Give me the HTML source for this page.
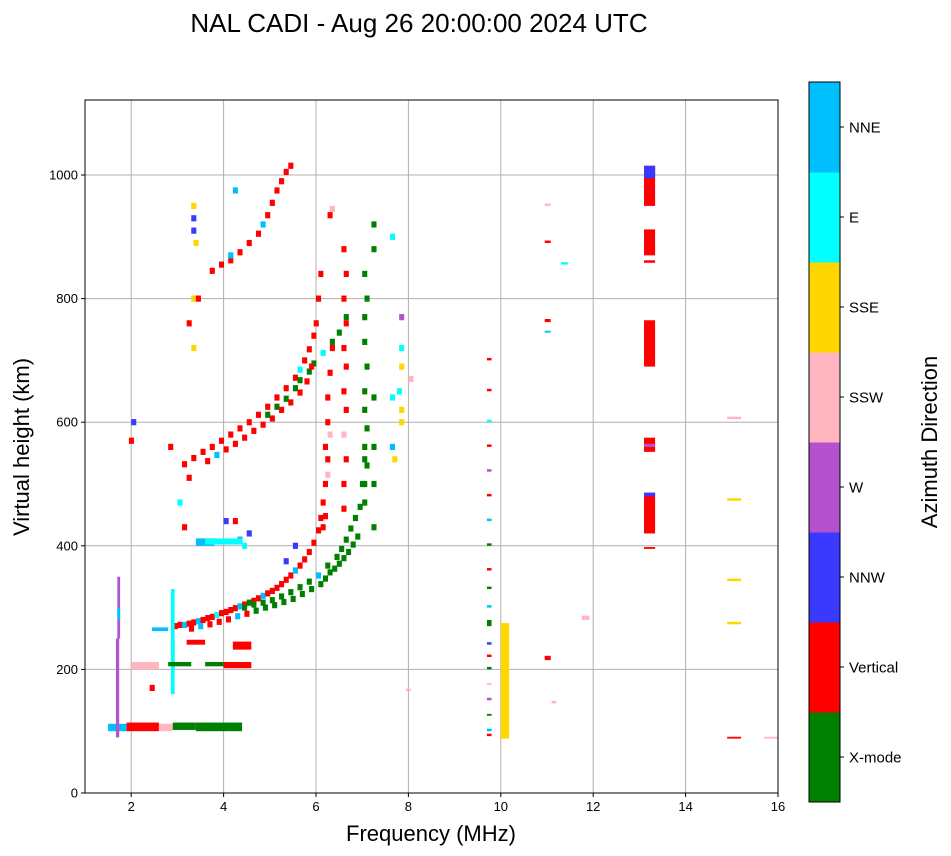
<!DOCTYPE html>
<html><head><meta charset="utf-8"><style>
body{margin:0;background:#fff;}
svg{display:block;font-family:"Liberation Sans",sans-serif;}
</style></head><body>
<svg id="chart" width="951" height="856">
<text x="419" y="32" font-size="26" text-anchor="middle">NAL CADI - Aug 26 20:00:00 2024 UTC</text>
<g id="grid"></g>
<g id="marks"></g>
<rect x="85" y="100" width="693" height="693" fill="none" stroke="#000" stroke-width="1"/>
<g id="axes"></g>
<text x="431" y="841" font-size="22" text-anchor="middle">Frequency (MHz)</text>
<text transform="translate(29,447) rotate(-90)" font-size="22" text-anchor="middle">Virtual height (km)</text>
<g id="cbar"></g>
<text transform="translate(937,442) rotate(-90)" font-size="22" text-anchor="middle">Azimuth Direction</text>
</svg>
<script>
const categories=["X-mode","Vertical","NNW","W","SSW","SSE","E","NNE"];
const catColors=["#008000","#ff0000","#3a3aff","#b452cd","#ffb6c1","#ffd700","#00ffff","#00bfff"];
const xTicks=[2,4,6,8,10,12,14,16];
const yTicks=[0,200,400,600,800,1000];
// trace cells: frequency (MHz), height (km), category index
const cellF=[2.9,3.0,3.1,3.2,3.3,3.4,3.5,3.6,3.7,3.8,3.9,4.0,4.1,4.2,4.3,4.4,4.5,4.6,4.7,4.8,4.9,5.0,5.1,5.2,5.3,5.4,5.5,5.6,5.7,5.8,5.9,6.0,6.05,6.1,6.15,6.2,
4.4,4.6,4.8,5.0,5.2,5.4,5.6,5.8,6.0,6.2,6.4,6.5,6.6,6.7,6.8,6.9,6.95,7.0,
3.1,3.3,3.5,3.7,3.9,4.1,4.3,4.5,4.7,4.9,5.1,5.3,5.5,5.6,5.7,5.8,5.9,5.95,6.0,6.05,
4.9,5.1,5.3,5.5,5.6,5.8,5.9,6.1,6.3,6.45,6.6,
3.7,3.9,4.1,4.3,4.5,4.7,4.8,4.9,5.0,5.1,5.2,5.3,5.4,
6.55,6.55,6.6,6.55,6.6,6.55,6.6,6.55,6.6,6.55,6.6,6.55,
7.0,7.0,7.05,7.0,7.05,7.0,7.0,7.05,7.0,7.0,7.05,7.0,7.2,7.2,7.2,7.2,7.2,7.2,
3.3,3.3,3.3,3.3,3.3,3.35,4.1,4.2,4.3,4.4,4.5,5.3,5.5,6.25,6.3,6.2,6.25,
7.6,7.6,7.65,7.6,7.8,7.8,7.75,7.8,7.8,7.8,8.0,2.0,2.4,1.95,2.8,3.2,4.0,4.2,
3.0,3.1,3.25,3.45,3.65,3.85,4.05,4.25,4.45,4.65,4.85,5.05,5.25,5.45,5.65,5.85,6.05,6.15,6.25,6.35,6.45,6.55,6.65,6.75,6.85,
6.1,6.15,6.15,6.2,6.2,6.25,6.3,
3.2,3.4,3.6,3.8,4.0,4.2,4.4,4.6,4.8,5.0,5.2,5.4,5.6,5.75,5.85];
const cellH=[270,272,272,274,276,278,280,283,285,288,291,293,296,299,302,305,308,311,315,319,323,327,332,338,345,352,360,368,378,390,405,425,445,470,500,540,
300,305,308,312,318,325,333,342,352,368,382,395,410,428,445,463,500,540,
532,542,552,560,570,580,590,600,612,625,640,655,672,685,700,718,740,760,800,840,
612,625,638,655,668,682,695,712,730,745,770,
845,855,862,875,890,905,920,935,955,975,990,1005,1015,
460,500,540,580,620,650,690,720,760,800,840,880,
470,500,530,560,590,620,650,690,730,770,800,840,880,920,430,500,560,640,720,800,
950,930,910,890,870,975,410,400,420,375,400,935,945,515,580,640,900,
540,560,600,620,650,690,720,770,670,600,170,570,560,510,440,440,470,430,
266,270,273,277,281,286,290,295,300,304,309,314,322,330,338,347,357,363,371,380,390,402,415,430,448,
560,600,640,680,720,760,800,
537,547,556,565,575,586,596,606,620,632,648,666,690,712,735];
const cellCat=[1,1,7,1,1,7,1,1,1,6,1,1,1,1,7,1,0,1,1,7,1,1,1,1,1,1,7,1,1,1,1,1,1,1,1,1,
0,0,0,0,0,0,0,0,7,0,0,0,0,0,0,0,0,0,
1,1,1,1,1,1,1,1,1,1,1,1,1,6,1,1,1,1,1,1,
0,0,0,0,0,0,0,6,0,0,0,
1,1,1,1,1,1,7,1,1,1,1,1,1,
1,1,1,4,1,1,1,1,1,1,1,1,
0,0,0,0,0,0,0,0,0,0,0,0,0,0,0,0,0,0,
5,5,5,2,2,5,7,7,7,6,2,2,2,1,4,4,4,
6,6,5,7,5,5,6,5,6,3,4,2,1,1,1,1,2,1,
6,1,1,7,1,1,1,7,1,0,0,0,0,0,0,0,0,0,0,0,0,0,0,0,0,
1,1,1,1,1,1,1,
1,1,1,7,1,1,1,1,1,1,1,1,1,1,1];
// blocks: f0, f1, h0, h1, category
const blkF0=[1.5,1.9,2.6,2.9,3.4,1.67,1.7,1.7,2.86,2.86,2.0,2.8,3.2,3.6,4.0,
9.7,9.7,9.7,9.7,9.7,9.7,9.7,9.7,9.7,9.7,9.7,9.7,9.7,9.7,9.7,9.7,9.7,9.7,9.7,9.7,
10.0,13.1,13.1,13.1,13.1,13.1,13.1,13.1,13.1,13.1,13.1,
14.9,14.9,14.9,14.9,14.9,15.7,11.75,10.95,10.95,10.95,10.95,10.95,11.3,7.95,11.1,
2.45,3.4,3.6,4.2];
const blkF1=[1.9,2.6,2.9,3.4,4.4,1.74,1.76,1.76,2.94,2.94,2.6,3.3,3.6,4.0,4.6,
9.8,9.8,9.8,9.8,9.8,9.8,9.8,9.8,9.8,9.8,9.8,9.8,9.8,9.8,9.8,9.8,9.8,9.8,9.8,9.8,
10.18,13.34,13.34,13.34,13.34,13.34,13.34,13.34,13.34,13.34,13.34,
15.2,15.2,15.2,15.2,15.2,16.0,11.92,11.08,11.08,11.08,11.08,11.08,11.45,8.05,11.2,
2.8,3.8,4.4,4.6];
const blkH0=[100,100,100,102,100,90,250,280,160,200,200,205,240,205,202,
92,100,125,150,175,200,220,240,270,300,330,360,400,440,480,520,560,600,650,700,
88,950,870,858,690,552,420,395,480,560,995,
88,273,343,473,605,88,280,215,745,762,890,950,855,165,145,
262,400,402,232];
const blkH1=[112,114,112,114,114,250,350,300,330,250,212,212,248,212,212,
96,104,128,154,178,204,224,244,280,304,334,364,404,444,484,524,564,604,654,704,
275,1015,912,862,765,575,486,398,486,565,1015,
91,277,347,477,609,91,287,222,748,767,894,954,859,169,149,
268,412,412,245];
const blkCat=[7,1,4,0,0,3,3,7,6,6,4,0,1,0,1,
1,7,0,3,4,0,1,2,0,7,0,1,0,7,1,3,1,6,1,1,
5,1,1,1,1,1,1,1,2,3,2,
1,5,5,5,4,4,4,1,7,1,1,4,6,4,4,
7,7,6,1];

const X0=85,X1=778,Y0=793,Y1=100;
const fmin=1,fmax=16,hmin=0,hmax=1121.4;
const xs=f=>X0+(f-fmin)/(fmax-fmin)*(X1-X0);
const ys=h=>Y0-(h-hmin)/(hmax-hmin)*(Y0-Y1);
const NS="http://www.w3.org/2000/svg";
function mk(tag,attrs,parent){const e=document.createElementNS(NS,tag);for(const k in attrs)e.setAttribute(k,attrs[k]);parent.appendChild(e);return e;}
const grid=document.getElementById('grid'),axes=document.getElementById('axes'),marks=document.getElementById('marks'),cbar=document.getElementById('cbar');
xTicks.forEach(t=>{const x=xs(t);
 const g=mk('line',{x1:x,x2:x,y1:Y1,y2:Y0,stroke:'#b0b0b0','stroke-width':1},grid);
 
 
 const tk=mk('line',{x1:x,x2:x,y1:Y0,y2:Y0+4,stroke:'#000'},axes);
 
 
 const tl=mk('text',{x:x,y:Y0+18,'font-size':13,'text-anchor':'middle'},axes);tl.textContent=t;
 
 
});
yTicks.forEach(t=>{const y=ys(t);
 const g=mk('line',{x1:X0,x2:X1,y1:y,y2:y,stroke:'#b0b0b0','stroke-width':1},grid);
 
 
 const tk=mk('line',{x1:X0-4,x2:X0,y1:y,y2:y,stroke:'#000'},axes);
 
 
 const tl=mk('text',{x:X0-7,y:y+4.5,'font-size':13,'text-anchor':'end'},axes);tl.textContent=t;
 
 
});
const cw=0.11,chh=10;
cellF.forEach((f,i)=>{const x=xs(f),y=ys(cellH[i]+chh/2);
 const r=mk('rect',{x:x,y:y,width:xs(f+cw)-x,height:ys(cellH[i]-chh/2)-y,fill:catColors[cellCat[i]]},marks);
 
 
});
blkF0.forEach((f,i)=>{const x=xs(f),y=ys(blkH1[i]);
 const r=mk('rect',{x:x,y:y,width:xs(blkF1[i])-x,height:ys(blkH0[i])-y,fill:catColors[blkCat[i]]},marks);
 
 
});
const CB={x:809,y:82,w:31,h:720};const seg=CB.h/categories.length;
categories.forEach((c,i)=>{const y=CB.y+CB.h-(i+1)*seg;
 const r=mk('rect',{x:CB.x,y:y,width:CB.w,height:seg+0.5,fill:catColors[i]},cbar);
 
 
 const tk=mk('line',{x1:CB.x+CB.w,x2:CB.x+CB.w+4,y1:y+seg/2,y2:y+seg/2,stroke:'#000'},cbar);
 
 
 const tl=mk('text',{x:CB.x+CB.w+9,y:y+seg/2+5.5,'font-size':15},cbar);tl.textContent=c;
 
 
});
const fr=mk('rect',{x:CB.x,y:CB.y,width:CB.w,height:CB.h,fill:'none',stroke:'#000'},cbar);


</script>
</body></html>
